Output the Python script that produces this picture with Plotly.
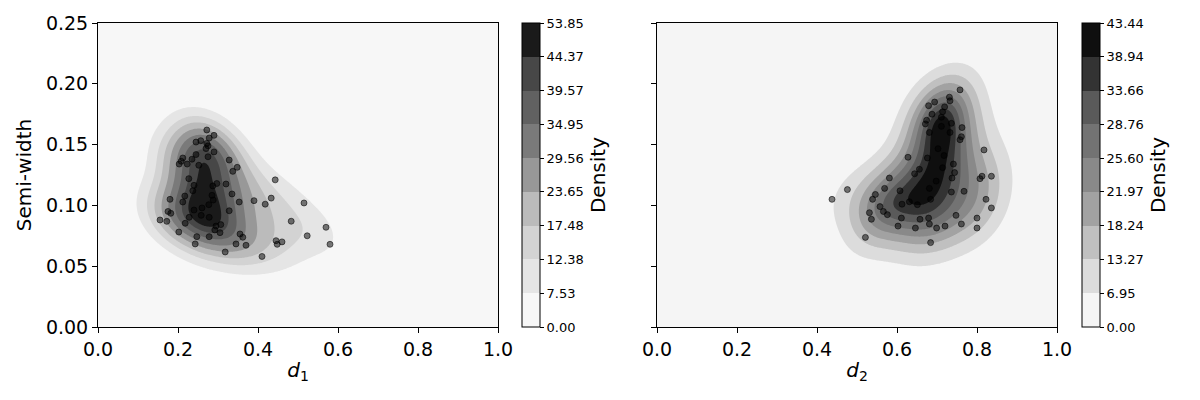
import numpy as np
import plotly.graph_objects as go

# ---- data ----
d1 = [0.272, 0.290, 0.278, 0.257, 0.245, 0.272, 0.275, 0.270, 0.290, 0.245,
      0.212, 0.208, 0.235, 0.275, 0.203, 0.223, 0.252, 0.328, 0.348, 0.337,
      0.227, 0.297, 0.320, 0.287, 0.240, 0.237, 0.335, 0.217, 0.180, 0.285,
      0.288, 0.212, 0.390, 0.353, 0.277, 0.260, 0.240, 0.328, 0.175, 0.182,
      0.258, 0.228, 0.155, 0.172, 0.278, 0.218, 0.295, 0.307, 0.292, 0.305,
      0.202, 0.355, 0.362, 0.278, 0.247, 0.243, 0.345, 0.370,
      0.443, 0.433, 0.418, 0.515, 0.483, 0.570, 0.523, 0.445, 0.448, 0.460,
      0.580, 0.318, 0.410]
sw1 = [0.1620, 0.1576, 0.1554, 0.1532, 0.1521, 0.1510, 0.1490, 0.1467, 0.1440, 0.1418,
       0.1390, 0.1363, 0.1380, 0.1400, 0.1340, 0.1340, 0.1330, 0.1373, 0.1313, 0.1280,
       0.1220, 0.1180, 0.1176, 0.1160, 0.1165, 0.1120, 0.1094, 0.1077, 0.1050, 0.1083,
       0.1044, 0.1028, 0.1039, 0.1028, 0.1006, 0.0979, 0.0962, 0.0956, 0.0950, 0.0935,
       0.0918, 0.0902, 0.0880, 0.0869, 0.0902, 0.0853, 0.0830, 0.0842, 0.0798, 0.0776,
       0.0781, 0.0765, 0.0738, 0.0743, 0.0743, 0.0683, 0.0683, 0.0672,
       0.1210, 0.1060, 0.1010, 0.1020, 0.0870, 0.0820, 0.0750, 0.0710, 0.0680, 0.0700,
       0.0680, 0.0617, 0.0580]

d2 = [0.7575, 0.731, 0.7325, 0.694, 0.679, 0.719, 0.714, 0.6875, 0.711, 0.674,
      0.671, 0.736, 0.711, 0.7625, 0.7325, 0.681, 0.761, 0.7575, 0.7025, 0.8175,
      0.7175, 0.6275, 0.676, 0.741, 0.656, 0.714, 0.644, 0.744, 0.581, 0.8125,
      0.836, 0.8075, 0.7375, 0.698,
      0.476, 0.569, 0.6075, 0.681, 0.736, 0.7675, 0.4375, 0.546, 0.539, 0.684,
      0.8225, 0.6125, 0.631, 0.651, 0.5575, 0.566, 0.576, 0.836, 0.531, 0.536,
      0.611, 0.6575, 0.679, 0.7475, 0.800, 0.681, 0.761, 0.6025, 0.646, 0.699,
      0.720, 0.800, 0.521, 0.684]
sw2 = [0.1950, 0.1890, 0.1860, 0.1850, 0.1820, 0.1810, 0.1770, 0.1750, 0.1725, 0.1700,
       0.1670, 0.1675, 0.1650, 0.1640, 0.1600, 0.1600, 0.1565, 0.1540, 0.1466, 0.1456,
       0.1410, 0.1396, 0.1390, 0.1340, 0.1297, 0.1310, 0.1260, 0.1270, 0.1225, 0.1240,
       0.1240, 0.1220, 0.1225, 0.1200,
       0.1130, 0.1140, 0.1120, 0.1140, 0.1110, 0.1116, 0.1050, 0.1090, 0.1050, 0.1050,
       0.1050, 0.1010, 0.1030, 0.1006, 0.0990, 0.0950, 0.0924, 0.0979, 0.0940, 0.0886,
       0.0896, 0.0886, 0.0896, 0.0918, 0.0896, 0.0847, 0.0847, 0.0830, 0.0814, 0.0814,
       0.0830, 0.0814, 0.0737, 0.0694]

# colour-bar level labels as printed in the reference
levels1 = [0.00, 7.53, 12.38, 17.48, 23.65, 29.56, 34.95, 39.57, 44.37, 53.85]
levels2 = [0.00, 6.95, 13.27, 18.24, 21.97, 25.60, 28.76, 33.66, 38.94, 43.44]
x_ticks = [0.0, 0.2, 0.4, 0.6, 0.8, 1.0]
y_ticks = [0.00, 0.05, 0.10, 0.15, 0.20, 0.25]


# ---- gaussian KDE, iso-proportion levels like seaborn ----
def make_kde(xs, ys, bw_adjust=1.0):
    pts = np.vstack([xs, ys])
    n = pts.shape[1]
    factor = n ** (-1.0 / 6.0) * bw_adjust
    cov = np.cov(pts) * factor ** 2
    inv = np.linalg.inv(cov)
    norm = 1.0 / (2 * np.pi * np.sqrt(np.linalg.det(cov))) / n

    def ev(X, Y):
        Z = np.zeros_like(X, dtype=float)
        for xi, yi in zip(xs, ys):
            dx = X - xi
            dy = Y - yi
            q = inv[0, 0] * dx * dx + 2 * inv[0, 1] * dx * dy + inv[1, 1] * dy * dy
            Z += np.exp(-0.5 * q)
        return Z * norm

    bwx = factor * np.std(xs, ddof=1)
    bwy = factor * np.std(ys, ddof=1)
    sx = np.linspace(min(xs) - 3 * bwx, max(xs) + 3 * bwx, 200)
    sy = np.linspace(min(ys) - 3 * bwy, max(ys) + 3 * bwy, 200)
    SX, SY = np.meshgrid(sx, sy)
    dens = ev(SX, SY)
    return ev, dens


def iso_levels(dens, k):
    vals = np.ravel(dens)
    sv = np.sort(vals)[::-1]
    cum = np.cumsum(sv) / vals.sum()
    iso = np.linspace(0, 1, k)
    idx = np.searchsorted(cum, 1 - iso)
    lv = np.take(sv, idx, mode="clip")
    lv[0] = 0.0
    return lv


gx = np.linspace(0, 1, 401)
gy = np.linspace(0, 0.25, 305)
GX, GY = np.meshgrid(gx, gy)

GREYS = [(0, 255), (0.125, 240), (0.25, 217), (0.375, 189), (0.5, 150),
         (0.625, 115), (0.75, 82), (0.875, 37), (1.0, 0)]


def band_scale(levels):
    lv = np.array(levels)
    mids = (lv[:-1] + lv[1:]) / 2 / lv[-1]
    g = np.interp(mids, [a for a, _ in GREYS], [b for _, b in GREYS])
    nb = len(g)
    return [[k / (nb - 1), f"rgb({int(round(v))},{int(round(v))},{int(round(v))})"]
            for k, v in enumerate(g)]


FONT = "DejaVu Sans"

fig = go.Figure()

panels = [
    (d1, sw1, levels1, "x", "y", 522 / 1200),
    (d2, sw2, levels2, "x2", "y2", 1082 / 1200),
]
for xs, ys, lv, xa, ya, cbx in panels:
    ev, dens = make_kde(xs, ys, 1.3)
    own = iso_levels(dens, len(lv))
    Z = ev(GX, GY)
    idx = np.interp(Z, own, np.arange(len(lv)))
    nlev = len(lv) - 1
    fig.add_trace(go.Contour(
        x=gx, y=gy, z=idx, xaxis=xa, yaxis=ya,
        zauto=False, zmin=0, zmax=nlev,
        autocontour=False,
        contours=dict(start=1, end=nlev - 1, size=1, coloring="fill", showlines=False),
        line=dict(width=0),
        colorscale=band_scale(lv),
        hoverinfo="skip",
        colorbar=dict(
            x=cbx, xanchor="left", xpad=0, y=0.1825, yanchor="bottom", ypad=0,
            len=0.76, lenmode="fraction", thickness=18, thicknessmode="pixels",
            outlinewidth=1, outlinecolor="black",
            tickmode="array", tickvals=list(range(len(lv))),
            ticktext=[f"{v:.2f}" for v in lv],
            ticks="outside", ticklen=4, tickcolor="black",
            tickfont=dict(family=FONT, size=13, color="black"),
            title=dict(text="Density", side="right",
                       font=dict(family=FONT, size=20, color="black")),
        ),
    ))
    fig.add_trace(go.Scatter(
        x=xs, y=ys, xaxis=xa, yaxis=ya, mode="markers",
        marker=dict(size=6, color="rgba(0,0,0,0.5)",
                    line=dict(width=1, color="rgba(0,0,0,0.55)")),
        hoverinfo="skip", showlegend=False,
    ))

axis_common = dict(
    showline=True, mirror=True, linecolor="black", linewidth=1,
    ticks="outside", ticklen=5, tickcolor="black",
    showgrid=False, zeroline=False, automargin=False,
    tickfont=dict(family=FONT, size=19, color="black"),
)

fig.update_layout(
    width=1200, height=400,
    margin=dict(l=0, r=0, t=0, b=0),
    paper_bgcolor="white", plot_bgcolor="white",
    showlegend=False,
    font=dict(family=FONT, color="black"),
    xaxis=dict(domain=[98 / 1200, 498 / 1200], range=[0, 1], anchor="y",
               tickvals=x_ticks, ticktext=[f"{v:.1f}" for v in x_ticks],
               title=dict(text="<i>d</i><sub>1</sub>", font=dict(family=FONT, size=20), standoff=4),
               **axis_common),
    yaxis=dict(domain=[1 - 327 / 400, 1 - 23 / 400], range=[0, 0.25], anchor="x",
               tickvals=y_ticks, ticktext=[f"{v:.2f}" for v in y_ticks],
               title=dict(text="Semi-width", font=dict(family=FONT, size=20), standoff=8),
               **axis_common),
    xaxis2=dict(domain=[657 / 1200, 1057 / 1200], range=[0, 1], anchor="y2",
                tickvals=x_ticks, ticktext=[f"{v:.1f}" for v in x_ticks],
                title=dict(text="<i>d</i><sub>2</sub>", font=dict(family=FONT, size=20), standoff=4),
                **axis_common),
    yaxis2=dict(domain=[1 - 327 / 400, 1 - 23 / 400], range=[0, 0.25], anchor="x2",
                tickvals=y_ticks, showticklabels=False,
                **axis_common),
)

fig.write_html("out.html", config={"displayModeBar": False},
               post_script="document.body.style.margin='0';")
